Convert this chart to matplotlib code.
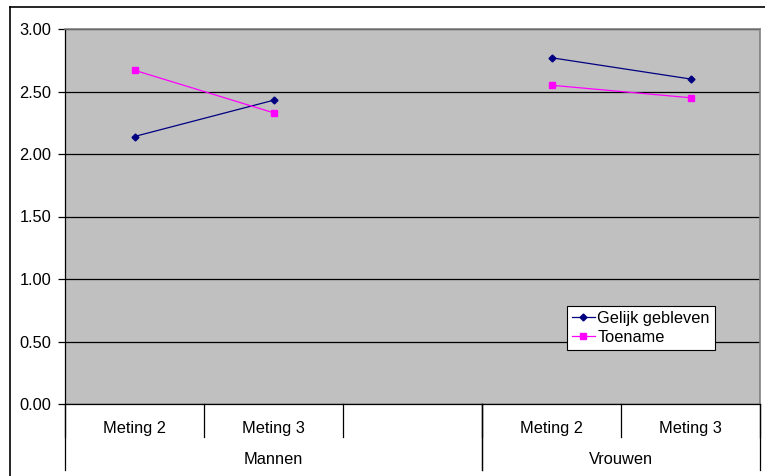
import numpy as np
import matplotlib
matplotlib.use("Agg")
import matplotlib.pyplot as plt
from matplotlib.lines import Line2D

plt.rcParams['font.family'] = ['Liberation Sans', 'DejaVu Sans']

# categories (the third one is an empty spacer column in the Mannen group)
categories = ["Meting 2", "Meting 3", "", "Meting 2", "Meting 3"]
groups = ["Mannen", "Vrouwen"]
group_spans = [(0, 2), (3, 4)]

gelijk = [2.14, 2.43, np.nan, 2.77, 2.60]
toename = [2.67, 2.33, np.nan, 2.55, 2.45]

FS = 11.8

fig = plt.figure(figsize=(7.65, 4.76), dpi=100)
ax = fig.add_axes([65 / 765, 72 / 476, 695 / 765, 375 / 476])
ax.set_facecolor("#c0c0c0")

x = np.arange(len(categories))
ax.plot(x, gelijk, color="#000080", marker="D", markersize=3.5, linewidth=0.9,
        label="Gelijk gebleven")
ax.plot(x, toename, color="#ff00ff", marker="s", markersize=4.3, linewidth=0.9,
        label="Toename")

ax.set_xlim(-0.5, len(categories) - 0.5)
ax.set_ylim(0, 3)
ax.set_yticks(np.arange(0, 3.01, 0.5))
ax.set_yticklabels([f"{v:.2f}" for v in np.arange(0, 3.01, 0.5)], fontsize=FS)
ax.yaxis.grid(True, color="black", linewidth=0.9)
ax.set_axisbelow(True)
ax.tick_params(axis="y", direction="out", length=5, width=0.9, pad=5)
ax.set_xticks([])

for side in ["top", "right"]:
    ax.spines[side].set_color("#808080")
    ax.spines[side].set_linewidth(1.2)
ax.spines["left"].set_linewidth(0.9)
ax.spines["bottom"].set_linewidth(0.9)

# category labels and dividers below the axis
tr = ax.get_xaxis_transform()
for i, lab in enumerate(categories):
    ax.text(i, -0.064, lab, transform=tr, ha="center", va="center", fontsize=FS)
for b in np.arange(-0.5, len(categories), 1.0):
    ax.plot([b, b], [0, -0.088], transform=tr, color="black", linewidth=0.9,
            clip_on=False)
for (g, (a, b)) in zip(groups, group_spans):
    ax.text((a + b) / 2, -0.147, g, transform=tr, ha="center", va="center",
            fontsize=FS)
    for edge in (a - 0.5, b + 0.5):
        ax.plot([edge, edge], [0, -0.176], transform=tr, color="black",
                linewidth=0.9, clip_on=False)

leg = ax.legend(loc="upper left", bbox_to_anchor=((567 - 65) / 695, (404 - 306) / 375),
                fontsize=FS, frameon=True, fancybox=False, framealpha=1,
                edgecolor="black", borderpad=0.3, labelspacing=0.25,
                handlelength=1.4, handletextpad=0.15, borderaxespad=0)
leg.get_frame().set_linewidth(0.8)

# outer chart frame
fig.add_artist(Line2D([10 / 765, 10 / 765], [0, 1 - 7 / 476], color="black",
                      linewidth=1.2))
fig.add_artist(Line2D([10 / 765, 1], [1 - 7 / 476, 1 - 7 / 476], color="black",
                      linewidth=1.2))

fig.savefig("out.png", dpi=100)
